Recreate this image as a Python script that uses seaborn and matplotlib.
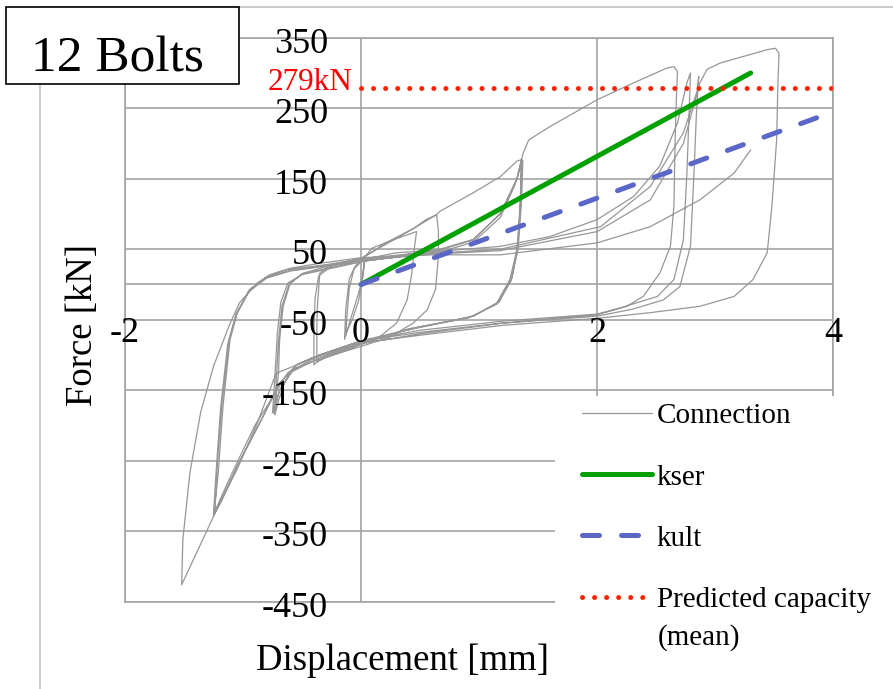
import matplotlib
matplotlib.use("Agg")
import matplotlib.pyplot as plt
import seaborn as sns
import pandas as pd
from matplotlib.patches import Rectangle
from matplotlib.lines import Line2D

# ---------------- data ----------------
# Connection hysteresis (displacement mm, force kN), traced stage by stage
s1_disp = [0.00, 0.02, 0.03, 0.02, 0.00, -0.05, -0.10, -0.13, -0.12, -0.10, -0.06, 0.00,
           0.03, 0.02, -0.02, -0.07, -0.12, -0.14, -0.13, -0.10, -0.05, 0.00]
s1_force = [0, 20, 38, 22, 0, -28, -55, -72, -45, -5, 22, 32,
            40, 15, -22, -48, -66, -78, -35, 8, 26, 34]

s2_disp = [0.10, 0.25, 0.40, 0.47, 0.45, 0.43, 0.39, 0.30, 0.16, 0.00, -0.15, -0.30, -0.375,
           -0.375, -0.37, -0.35, -0.26, -0.10, 0.00,
           0.20, 0.45, 0.55, 0.64, 0.655, 0.655, 0.63, 0.56, 0.44, 0.25, 0.00, -0.20, -0.35, -0.40,
           -0.40, -0.39, -0.36, -0.25, 0.00]
s2_force = [52, 62, 71, 75, 50, 16, -22, -55, -74, -85, -95, -104, -110,
            -60, -31, 16, 28, 33, 37,
            56, 80, 92, 99, 75, 40, -7, -36, -55, -74, -88, -98, -106, -114,
            -70, -20, 12, 26, 36]

s3_disp = [0.20, 0.45, 0.64, 0.67, 0.95, 1.18, 1.32, 1.36,
           1.355, 1.35, 1.32, 1.26, 1.15, 0.95, 0.67, 0.30, 0.00, -0.35, -0.545, -0.65, -0.70, -0.73,
           -0.72, -0.70, -0.69, -0.66, -0.60, -0.49, -0.30, 0.00,
           0.30, 0.67, 0.95, 1.18, 1.32, 1.36,
           1.35, 1.33, 1.28, 1.17, 0.95, 0.50, 0.00, -0.375, -0.58, -0.69, -0.74,
           -0.72, -0.70, -0.67, -0.61, -0.50, 0.00,
           0.67, 0.95, 1.18, 1.30, 1.37,
           1.36, 1.33, 1.27, 1.15, 0.90, 0.40, 0.00, -0.40, -0.60, -0.70, -0.75,
           -0.73, -0.71, -0.68, -0.62, -0.50, 0.00]
s3_force = [58, 80, 99, 104, 130, 153, 175, 177,
            150, 111, 49, 7, -26, -45, -55, -68, -80, -100, -114, -140, -165, -185,
            -160, -126, -78, -31, 2, 16, 25, 35,
            45, 49, 63, 101, 149, 178,
            130, 60, 10, -25, -45, -60, -82, -107, -121, -149, -183,
            -140, -80, -30, 0, 15, 33,
            46, 60, 95, 140, 176,
            120, 50, 5, -28, -48, -63, -85, -108, -125, -155, -182,
            -130, -70, -25, 2, 14, 32]

s4_disp = [0.67, 0.95, 1.18, 1.32, 1.37, 1.42, 1.60, 2.00, 2.31, 2.59, 2.65, 2.68,
           2.67, 2.66, 2.65, 2.62, 2.53, 2.39, 2.25, 2.00, 1.18, 0.50, 0.00, -0.35, -0.545,
           -0.69, -0.83, -1.05, -1.19, -1.25,
           -1.23, -1.21, -1.17, -1.11, -1.05, -0.94, -0.80, -0.63, -0.30, 0.00,
           0.50, 1.18, 1.60, 2.00, 2.31, 2.53, 2.68, 2.76, 2.79,
           2.78, 2.76, 2.73, 2.65, 2.51, 2.20, 2.00, 1.20, 0.50, 0.00, -0.40, -0.60, -0.72,
           -0.88, -1.05, -1.24,
           -1.22, -1.18, -1.12, -1.05, -0.95, -0.80, -0.60, 0.00,
           0.50, 1.18, 2.03, 2.45, 2.73, 2.85, 2.86,
           2.84, 2.82, 2.79, 2.70, 2.56, 2.30, 2.00, 1.20, 0.50, 0.00, -0.40, -0.62, -0.90,
           -1.10, -1.25,
           -1.23, -1.19, -1.13, -1.06, -0.95, -0.80, -0.60, 0.00]
s4_force = [50, 64, 100, 150, 185, 205, 224, 262, 286, 307, 309, 302,
            260, 205, 111, 54, 16, -17, -31, -43, -55, -68, -80, -100, -114,
            -140, -187, -258, -310, -327,
            -300, -267, -173, -78, -41, -7, 11, 21, 28, 36,
            45, 54, 68, 92, 125, 168, 229, 286, 300,
            250, 158, 63, 7, -17, -33, -42, -52, -65, -80, -103, -118, -126,
            -197, -262, -325,
            -260, -170, -80, -40, -8, 10, 20, 34,
            43, 50, 82, 139, 215, 276, 295,
            240, 158, 54, -3, -22, -35, -45, -55, -70, -84, -105, -125, -200,
            -270, -326,
            -270, -175, -85, -42, -10, 9, 19, 33]

s5_disp = [0.50, 1.18, 2.00, 2.45, 2.73, 2.87, 2.93, 3.04, 3.44, 3.51, 3.54,
           3.53, 3.52, 3.48, 3.44, 3.32, 3.16, 2.87, 2.45, 2.00, 1.20, 0.50, 0.00, -0.35,
           -0.545, -0.69, -0.83, -1.05, -1.25, -1.52,
           -1.51, -1.45, -1.36, -1.25, -1.11, -1.03, -0.88, -0.77, -0.60, -0.35, 0.00,
           0.60, 1.18, 2.00, 2.45, 2.87, 3.16, 3.30]
s5_force = [42, 48, 75, 120, 200, 286, 305, 314, 333, 335, 328,
            280, 205, 111, 45, 7, -17, -31, -40, -48, -58, -72, -83, -100,
            -114, -140, -187, -258, -329, -426,
            -362, -267, -182, -116, -55, -26, 2, 14, 23, 30, 38,
            42, 42, 59, 82, 120, 158, 191]

# Stiffness lines and predicted capacity
kser_disp = [0.0, 3.30]
kser_force = [0.0, 300.0]
kult_disp = [0.0, 4.0]
kult_force = [0.0, 245.0]
cap_disp = [0.0, 4.0]
cap_force = [279.0, 279.0]

x_ticks = [-2, 0, 2, 4]
y_ticks = [350, 250, 150, 50, -50, -150, -250, -350, -450]

# ---------------- styling ----------------
sns.set_theme(style="white")
plt.rcParams["font.family"] = ["Liberation Serif", "DejaVu Serif"]
plt.rcParams["text.color"] = "black"
plt.rcParams["legend.labelcolor"] = "black"

W, H = 893, 689
fig = plt.figure(figsize=(W / 100, H / 100), dpi=100)
ax = fig.add_axes([125 / W, 1 - 601.7 / H, 708.3 / W, 564 / H])

grid_c = "#a3a3a3"
conn_c = "#979797"

conn = pd.DataFrame({
    "disp": s1_disp + s2_disp + s3_disp + s4_disp + s5_disp,
    "force": s1_force + s2_force + s3_force + s4_force + s5_force,
})

sns.lineplot(data=conn, x="disp", y="force", sort=False, estimator=None,
             color=conn_c, lw=0.9, ax=ax, legend=False, zorder=3)
h_conn = ax.lines[-1]
sns.lineplot(x=kser_disp, y=kser_force, color="#00a000", lw=3.6, ax=ax,
             solid_capstyle="round", zorder=4)
h_kser = ax.lines[-1]
sns.lineplot(x=kult_disp, y=kult_force, color="#5b67c7", lw=3.6, ax=ax,
             linestyle=(0, (3.4, 4.4)), dash_capstyle="round", zorder=4)
h_kult = ax.lines[-1]
sns.lineplot(x=cap_disp, y=cap_force, color="#ff2200", lw=3.6, ax=ax,
             linestyle=(0, (0.01, 2.4)), dash_capstyle="round", zorder=4)
h_cap = ax.lines[-1]

ax.set_xlim(-2, 4)
ax.set_ylim(-450, 350)
ax.set_xticks(x_ticks)
ax.set_yticks(y_ticks)
ax.tick_params(length=0, labelbottom=False, labelleft=False)
ax.set_xlabel("")
ax.set_ylabel("")
ax.set_axisbelow(True)
ax.grid(True, color=grid_c, lw=1.2)
ax.axhline(0, color=grid_c, lw=1.2, zorder=1)
for s in ax.spines.values():
    s.set_color(grid_c)
    s.set_linewidth(1.2)

tick_fs = 26
for v in y_ticks:
    ax.text(-0.28, v - 21.5, f"{v}", ha="right", va="baseline", fontsize=tick_fs,
            color="black", zorder=6)
for v in x_ticks:
    ax.text(v, -82, f"{v}", ha="center", va="baseline", fontsize=tick_fs,
            color="black", zorder=6)

ax.text(-0.076, 276, "279kN", ha="right", va="baseline", fontsize=22.5,
        color="#ff0000", zorder=6)

fig.text(402 / W, 1 - 670 / H, "Displacement [mm]", ha="center", va="baseline",
         fontsize=26.5, color="black")
fig.text(92 / W, 1 - 325 / H, "Force [kN]", rotation=90, rotation_mode="anchor",
         ha="center", va="baseline", fontsize=26.5, color="black")

# chart-area frame lines (partially visible)
fig.add_artist(Line2D([40 / W, 1.0], [1 - 7 / H, 1 - 7 / H], transform=fig.transFigure,
                      color="#c6c6c6", lw=1.3, zorder=0))
fig.add_artist(Line2D([40 / W, 40 / W], [0, 1 - 7 / H], transform=fig.transFigure,
                      color="#c6c6c6", lw=1.3, zorder=0))

# legend area (white panel over the plot)
fig.add_artist(Rectangle((555 / W, 0), 1 - 555 / W, 1 - 396 / H, transform=fig.transFigure,
                         facecolor="white", edgecolor="none", zorder=8))
leg = fig.legend(handles=[h_conn, h_kser, h_kult, h_cap],
                 labels=["Connection", "kser", "kult", "Predicted capacity"],
                 loc="upper left", bbox_to_anchor=(581.7 / W, 1 - 403 / H),
                 frameon=False, fontsize=21, handlelength=2.4, handletextpad=0.17,
                 labelspacing=1.19, borderpad=0, borderaxespad=0)
leg.set_zorder(9)
for t in leg.get_texts():
    t.set_color("black")
fig.text(658 / W, 1 - 645 / H, "(mean)", ha="left", va="baseline", fontsize=21,
         color="black", zorder=9)

# title box
fig.add_artist(Rectangle((6 / W, 1 - 84 / H), 233 / W, 77 / H, transform=fig.transFigure,
                         facecolor="white", edgecolor="black", lw=1.2, zorder=10))
fig.text(117 / W, 1 - 71 / H, "12 Bolts", ha="center", va="baseline", fontsize=37,
         color="black", zorder=11)

fig.savefig("out.png", dpi=100)
